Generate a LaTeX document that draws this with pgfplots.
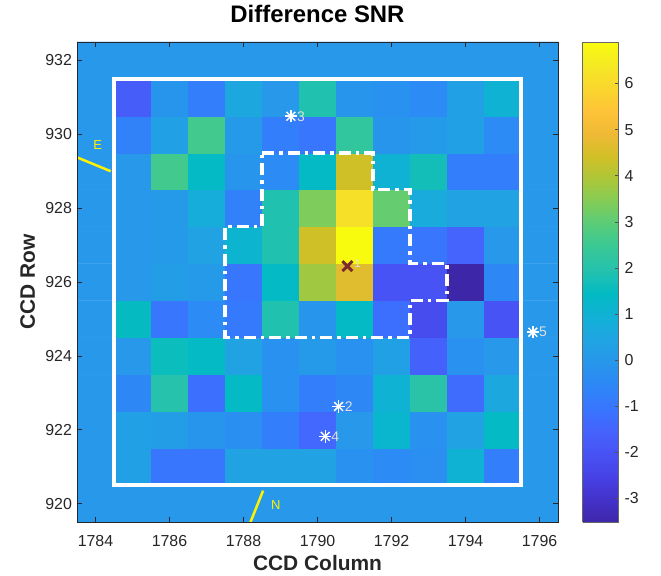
\documentclass[border=0pt]{standalone}
\usepackage{fontspec}
\setmainfont{Liberation Sans}
\usepackage{pgfplots}
\pgfplotsset{compat=1.18}
\pgfplotsset{colormap={parula}{
rgb=(0.2422,0.1504,0.6603) rgb=(0.2647,0.1978,0.7952) rgb=(0.2783,0.2559,0.8991)
rgb=(0.2810,0.3228,0.9579) rgb=(0.2699,0.3892,0.9906) rgb=(0.2206,0.4603,0.9973)
rgb=(0.1786,0.5289,0.9682) rgb=(0.1540,0.5902,0.9218) rgb=(0.1248,0.6459,0.8883)
rgb=(0.0689,0.6948,0.8394) rgb=(0.0067,0.7312,0.7660) rgb=(0.1408,0.7584,0.6842)
rgb=(0.2161,0.7843,0.5923) rgb=(0.3406,0.8008,0.4789) rgb=(0.5044,0.7993,0.3480)
rgb=(0.6720,0.7793,0.2227) rgb=(0.8203,0.7498,0.1535) rgb=(0.9393,0.7288,0.2100)
rgb=(0.9970,0.7659,0.2199) rgb=(0.9786,0.8386,0.1766) rgb=(0.9597,0.9135,0.1423)
rgb=(0.9763,0.9831,0.0538)
}}
\definecolor{targetred}{rgb}{0.49,0.17,0.17}
\definecolor{axgray}{rgb}{0.15,0.15,0.15}
\definecolor{lbl}{rgb}{0.88,0.88,0.88}
\pgfplotsset{/pgf/number format/assume math mode=true}
\begin{document}
\begin{tikzpicture}
\useasboundingbox (0,0) rectangle (661bp,576bp);
\begin{axis}[
  at={(77bp,54bp)}, anchor=south west,
  scale only axis, width=481bp, height=480bp,
  xmin=1783.5, xmax=1796.5, ymin=919.5, ymax=932.5,
  y dir=normal,
  colormap name=parula,
  point meta min=-3.51, point meta max=6.9,
  xtick={1784,1786,...,1796}, ytick={920,922,...,932},
  tick align=inside, major tick length=5bp,
  tick style={axgray, line width=0.6bp},
  axis line style={axgray, line width=0.7bp},
  tick label style={font=\fontsize{16}{16}\selectfont, text=axgray},
  xticklabel style={/pgf/number format/1000 sep={}, anchor=base, yshift=-24.5bp},
  yticklabel style={/pgf/number format/1000 sep={}, xshift=-1.5bp},
  title={Difference SNR},
  title style={font=\fontsize{24}{24}\selectfont\bfseries, at={(0.5,1)}, anchor=base, yshift=14bp},
  xlabel={CCD Column}, ylabel={CCD Row},
  xlabel style={font=\fontsize{21}{21}\selectfont\bfseries, at={(axis description cs:0.5,0)}, anchor=base, yshift=-48bp, text=axgray},
  ylabel style={font=\fontsize{21}{21}\selectfont\bfseries, at={(axis description cs:0,0.5)}, anchor=base, yshift=42bp, text=axgray},
  axis on top,
  colorbar sampled,
  colorbar style={
    samples=200,
    at={(parent axis.north east)}, anchor=north west, xshift=16bp,
    scale only axis, width=36bp,
    ytick={-3,-2,...,6},
    ytick pos=right, yticklabel pos=right,
    tick align=inside, major tick length=4bp,
    tick style={axgray!80, line width=0.6bp},
    axis line style={axgray!70, line width=0.7bp},
    yticklabel style={font=\fontsize{16}{16}\selectfont, text=axgray, xshift=2.5bp},
    axis on top,
  },
]
\addplot[matrix plot*, y dir=normal, mesh/cols=13, point meta=explicit] table[meta=c] {
x y c
1784 920 0
1785 920 0
1786 920 0
1787 920 0
1788 920 0
1789 920 0
1790 920 0
1791 920 0
1792 920 0
1793 920 0
1794 920 0
1795 920 0
1796 920 0
1784 921 0
1785 921 0.3
1786 921 -1.0
1787 921 -1.0
1788 921 0.4
1789 921 0.4
1790 921 0.4
1791 921 -0.2
1792 921 -0.4
1793 921 -0.3
1794 921 1.0
1795 921 -0.8
1796 921 0
1784 922 0
1785 922 0.3
1786 922 0.2
1787 922 -0.1
1788 922 -0.3
1789 922 -0.8
1790 922 -1.4
1791 922 0.0
1792 922 1.2
1793 922 -0.2
1794 922 0.4
1795 922 1.4
1796 922 0
1784 923 0
1785 923 -0.5
1786 923 2.0
1787 923 -1.2
1788 923 1.4
1789 923 -0.2
1790 923 -0.8
1791 923 -0.5
1792 923 1.0
1793 923 2.1
1794 923 -1.3
1795 923 0.6
1796 923 0
1784 924 0
1785 924 0.0
1786 924 1.6
1787 924 1.4
1788 924 0.4
1789 924 -0.2
1790 924 0.1
1791 924 -0.2
1792 924 0.3
1793 924 -1.6
1794 924 -0.2
1795 924 0.0
1796 924 0
1784 925 0
1785 925 1.5
1786 925 -1.0
1787 925 -0.4
1788 925 -0.9
1789 925 1.9
1790 925 -0.1
1791 925 1.4
1792 925 -1.2
1793 925 -2.2
1794 925 0.0
1795 925 -2.0
1796 925 0
1784 926 0
1785 926 0.0
1786 926 0.2
1787 926 0.1
1788 926 -1.0
1789 926 1.4
1790 926 3.8
1791 926 4.65
1792 926 -2.0
1793 926 -2.0
1794 926 -3.51
1795 926 -0.5
1796 926 0
1784 927 0
1785 927 0.0
1786 927 0.1
1787 927 0.4
1788 927 1.1
1789 927 1.9
1790 927 4.4
1791 927 6.9
1792 927 -0.9
1793 927 -1.0
1794 927 -1.5
1795 927 0.0
1796 927 0
1784 928 0
1785 928 0.0
1786 928 0.1
1787 928 0.8
1788 928 -0.7
1789 928 1.9
1790 928 3.4
1791 928 6.2
1792 928 3.1
1793 928 0.7
1794 928 0.4
1795 928 0.4
1796 928 0
1784 929 0
1785 929 0.0
1786 929 2.6
1787 929 1.4
1788 929 -0.1
1789 929 -0.4
1790 929 1.4
1791 929 4.4
1792 929 1.0
1793 929 1.7
1794 929 -0.8
1795 929 -0.8
1796 929 0
1784 930 0
1785 930 -0.7
1786 930 0.3
1787 930 2.6
1788 930 0.1
1789 930 -0.8
1790 930 -1.0
1791 930 2.3
1792 930 -0.1
1793 930 0.1
1794 930 0.3
1795 930 -0.4
1796 930 0
1784 931 0
1785 931 -1.7
1786 931 -0.1
1787 931 -0.8
1788 931 0.6
1789 931 0.0
1790 931 1.9
1791 931 -0.1
1792 931 -0.2
1793 931 -0.4
1794 931 0.3
1795 931 1.0
1796 931 0
1784 932 0
1785 932 0
1786 932 0
1787 932 0
1788 932 0
1789 932 0
1790 932 0
1791 932 0
1792 932 0
1793 932 0
1794 932 0
1795 932 0
1796 932 0
};
% outer white box
\addplot[white, line width=3.5bp, line join=miter, line cap=rect] coordinates {
(1784.5,920.5) (1795.5,920.5) (1795.5,931.5) (1784.5,931.5) (1784.5,920.5)};
% aperture
\addplot[white, line width=3.5bp, line join=miter, dash pattern=on 12bp off 5bp on 3.5bp off 5bp] coordinates {
(1788.5,929.5) (1791.5,929.5) (1791.5,928.5) (1792.5,928.5) (1792.5,926.5) (1793.5,926.5)
(1793.5,925.5) (1792.5,925.5) (1792.5,924.5) (1787.5,924.5) (1787.5,927.5) (1788.5,927.5) (1788.5,929.5)};
% compass
\addplot[yellow, line width=2.5bp] coordinates {(1783.2,929.5) (1784.41,929.0)};
\addplot[yellow, line width=2.5bp] coordinates {(1788.05,919.15) (1788.53,920.35)};
\node[text=yellow, font=\fontsize{13}{13}\selectfont] at (axis cs:1784.06,929.72) {E};
\node[text=yellow, font=\fontsize{13}{13}\selectfont] at (axis cs:1788.87,919.96) {N};
% neighbour stars
\addplot[only marks, mark=+, mark size=6.2bp, white, line width=1.5bp] coordinates {
(1789.28,930.49) (1790.57,922.63) (1790.21,921.82) (1795.82,924.64)};
\addplot[only marks, mark=x, mark size=6.2bp, white, line width=1.5bp] coordinates {
(1789.28,930.49) (1790.57,922.63) (1790.21,921.82) (1795.82,924.64)};
\node[anchor=west, text=lbl, font=\fontsize{14}{14}\selectfont, inner sep=0pt, xshift=6bp] at (axis cs:1789.28,930.49) {3};
\node[anchor=west, text=lbl, font=\fontsize{14}{14}\selectfont, inner sep=0pt, xshift=6bp] at (axis cs:1790.57,922.63) {2};
\node[anchor=west, text=lbl, font=\fontsize{14}{14}\selectfont, inner sep=0pt, xshift=6bp] at (axis cs:1790.21,921.82) {4};
\node[anchor=west, text=lbl, font=\fontsize{14}{14}\selectfont, inner sep=0pt, xshift=6bp] at (axis cs:1795.82,924.64) {5};
% target
\addplot[only marks, mark=x, mark size=7bp, targetred, line width=3bp] coordinates {(1790.81,926.43)};
\node[anchor=west, text=lbl, font=\fontsize{11}{11}\selectfont, inner sep=0pt, xshift=7bp, yshift=2bp] at (axis cs:1790.81,926.43) {1};
\end{axis}
\end{tikzpicture}
\end{document}
